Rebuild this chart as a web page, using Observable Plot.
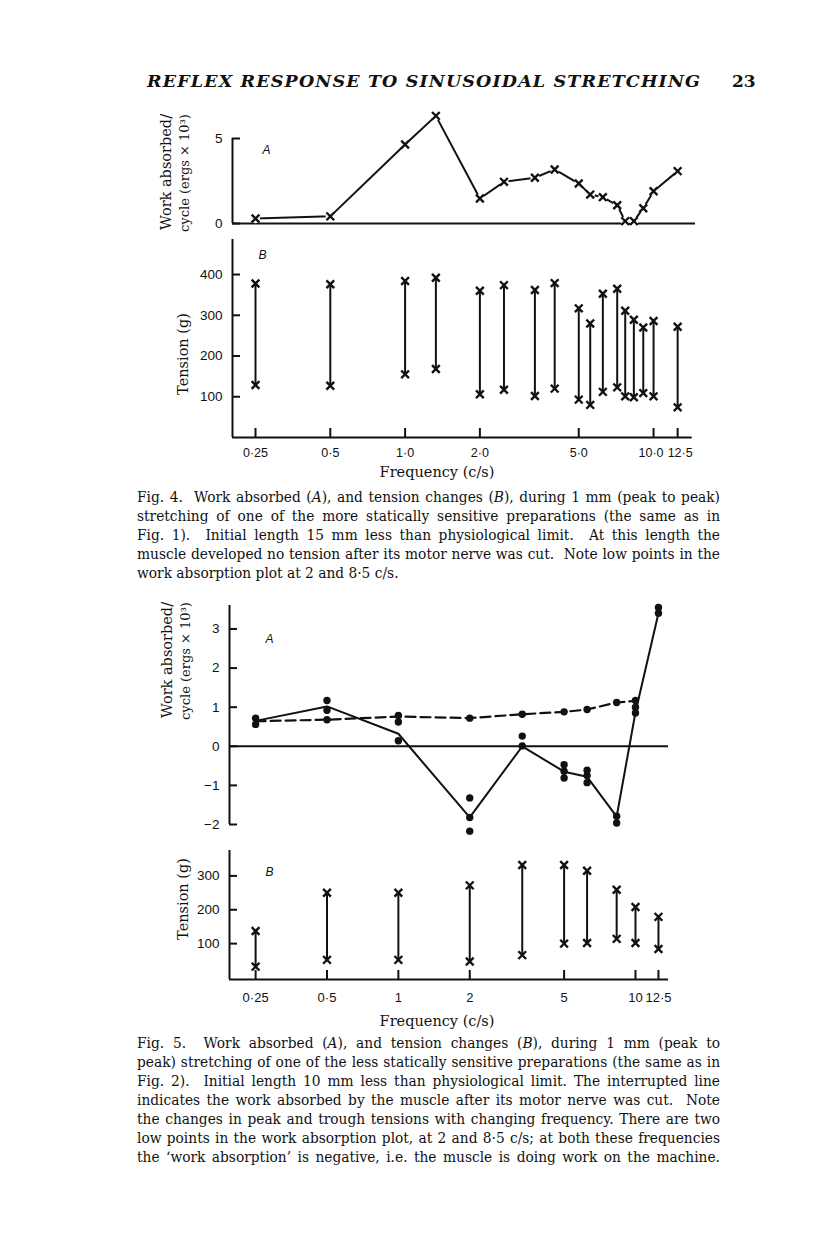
<!DOCTYPE html>
<html>
<head>
<meta charset="utf-8">
<script src="https://cdn.jsdelivr.net/npm/d3@7"></script>
<script src="https://cdn.jsdelivr.net/npm/@observablehq/plot@0.6"></script>
<style>
  html, body { margin: 0; padding: 0; background: #fff; }
  #page { position: relative; width: 816px; height: 1249px; overflow: hidden; background: #fff; color: #111; font-family: "DejaVu Serif", serif; }
  .plot { position: absolute; left: 0; }
  .cap { position: absolute; left: 137px; font-size: 14px; line-height: 19px; transform-origin: 0 0; }
  .cap div { text-align: justify; text-align-last: justify; }
  .cap div.last { text-align-last: left; }
  .cap span.m { display: inline-block; white-space: nowrap; }
  .rot { position: absolute; transform: translate(-50%, -50%) rotate(-90deg); white-space: nowrap; font-family: "DejaVu Serif", serif; }
  .xlab { position: absolute; transform: translate(-50%, -50%); white-space: nowrap; font-family: "DejaVu Serif", serif; font-size: 14.5px; }
</style>
</head>
<body>
<div id="page">
  <svg style="position:absolute;left:0;top:0" width="816" height="110">
    <text x="147" y="87" textLength="553" lengthAdjust="spacing" font-family="DejaVu Serif" font-style="italic" font-weight="bold" font-size="17.5" fill="#111">REFLEX RESPONSE TO SINUSOIDAL STRETCHING</text>
    <text x="732" y="87" font-family="DejaVu Serif" font-weight="bold" font-size="17" fill="#111">23</text>
  </svg>
  <div class="rot" style="left:166px;top:172px;font-size:14.5px">Work absorbed/</div>
  <div class="rot" style="left:184px;top:173px;font-size:13px">cycle (ergs × 10³)</div>
  <div class="rot" style="left:183px;top:354px;font-size:14.5px">Tension (g)</div>
  <div class="xlab" style="left:437px;top:472px">Frequency (c/s)</div>
  <div class="rot" style="left:167px;top:660px;font-size:14.5px">Work absorbed/</div>
  <div class="rot" style="left:185px;top:661px;font-size:13px">cycle (ergs × 10³)</div>
  <div class="rot" style="left:183px;top:899px;font-size:14.5px">Tension (g)</div>
  <div class="xlab" style="left:437px;top:1021px">Frequency (c/s)</div>
</div>
<script>
// ---------- Fig. 4 data ----------
const fig4Freq = [0.25, 0.5, 1, 1.33, 2, 2.5, 3.33, 4, 5, 5.56, 6.25, 7.14, 7.69, 8.33, 9.09, 10, 12.5];
const fig4Work = [0.29, 0.42, 4.65, 6.33, 1.47, 2.45, 2.69, 3.18, 2.35, 1.70, 1.55, 1.07, 0.14, 0.14, 0.9, 1.9, 3.08];
const fig4TensionPeak = [378, 376, 384, 392, 360, 374, 362, 379, 317, 280, 353, 365, 311, 289, 270, 286, 272];
const fig4TensionTrough = [129, 127, 155, 168, 106, 117, 102, 120, 93, 80, 112, 123, 101, 99, 109, 101, 74];
const fig4TickValues = [0.25, 0.5, 1, 2, 5, 10, 12.5];
const fig4TickLabels = ["0·25", "0·5", "1·0", "2·0", "5·0", "10·0", "12·5"];
const fig4WorkTicks = [0, 5];
const fig4WorkTickLabels = ["0", "5"];
const fig4TensionTicks = [100, 200, 300, 400];

// ---------- Fig. 5 data ----------
const fig5Freq = [0.25, 0.5, 1, 2, 3.33, 5, 6.25, 8.33, 10, 12.5];
const fig5WorkIntact = [0.65, 1.02, 0.32, -1.82, 0.0, -0.65, -0.78, -1.8, 0.87, 3.4];
const fig5CutFreq = [0.25, 0.5, 1, 2, 3.33, 5, 6.25, 8.33, 10];
const fig5WorkCut = [0.64, 0.68, 0.76, 0.72, 0.82, 0.88, 0.94, 1.12, 1.16];
const fig5PointFreq = [0.25, 0.25, 0.5, 0.5, 0.5, 1, 1, 1, 2, 2, 2, 2, 3.33, 3.33, 3.33, 5, 5, 5, 5, 6.25, 6.25, 6.25, 6.25, 8.33, 8.33, 8.33, 10, 10, 10, 12.5, 12.5];
const fig5PointWork = [0.72, 0.56, 1.17, 0.92, 0.68, 0.79, 0.62, 0.14, 0.72, -1.32, -1.82, -2.17, 0.82, 0.26, 0.01, 0.88, -0.47, -0.64, -0.81, 0.94, -0.61, -0.75, -0.93, 1.12, -1.79, -1.96, 1.17, 1.0, 0.85, 3.55, 3.4];
const fig5TensionPeak = [137, 250, 250, 272, 332, 332, 315, 259, 208, 179];
const fig5TensionTrough = [32, 52, 52, 47, 66, 100, 102, 114, 102, 84];
const fig5TickValues = [0.25, 0.5, 1, 2, 5, 10, 12.5];
const fig5TickLabels = ["0·25", "0·5", "1", "2", "5", "10", "12·5"];
const fig5WorkTicks = [-2, -1, 0, 1, 2, 3];
const fig5WorkTickLabels = ["−2", "−1", "0", "1", "2", "3"];
const fig5TensionTicks = [100, 200, 300];

// ---------- captions ----------
const cap4Lines = [
  "Fig. 4.&nbsp; Work absorbed (<i>A</i>), and tension changes (<i>B</i>), during 1 mm (peak to peak)",
  "stretching of one of the more statically sensitive preparations (the same as in",
  "Fig. 1).&nbsp; Initial length 15 mm less than physiological limit.&nbsp; At this length the",
  "muscle developed no tension after its motor nerve was cut.&nbsp; Note low points in the",
  "work absorption plot at 2 and 8·5 c/s."
];
const cap5Lines = [
  "Fig. 5.&nbsp; Work absorbed (<i>A</i>), and tension changes (<i>B</i>), during 1 mm (peak to",
  "peak) stretching of one of the less statically sensitive preparations (the same as in",
  "Fig. 2).&nbsp; Initial length 10 mm less than physiological limit. The interrupted line",
  "indicates the work absorbed by the muscle after its motor nerve was cut.&nbsp; Note",
  "the changes in peak and trough tensions with changing frequency. There are two",
  "low points in the work absorption plot, at 2 and 8·5 c/s; at both these frequencies",
  "the ‘work absorption’ is negative, i.e. the muscle is doing work on the machine."
];

const page = document.getElementById("page");
const INK = "#111";
const baseStyle = {fontFamily: "'Liberation Sans', Arial, sans-serif", fontSize: "13px", color: INK, background: "transparent", overflow: "visible"};
const fmt = (values, labels) => d => labels[values.indexOf(d)];

function place(svg, top) {
  svg.classList.add("plot");
  svg.style.top = top + "px";
  page.appendChild(svg);
}

// ---------- Fig 4 A ----------
const f4 = fig4Freq.map((f, i) => ({f, w: fig4Work[i], hi: fig4TensionPeak[i], lo: fig4TensionTrough[i]}));
const x4 = {type: "log", domain: [0.202, 14.75]};
const fig4A = Plot.plot({
  width: 816, height: 140,
  marginLeft: 232, marginRight: 121, marginTop: 38, marginBottom: 17,
  x: {...x4, axis: null},
  y: {domain: [0, 5]},
  style: baseStyle,
  marks: [
    Plot.ruleX([x4.domain[0]], {y1: 0, y2: 5, stroke: INK, strokeWidth: 2}),
    Plot.ruleY([0], {x1: x4.domain[0], x2: x4.domain[1], stroke: INK, strokeWidth: 2}),
    Plot.axisY({ticks: fig4WorkTicks, tickFormat: fmt(fig4WorkTicks, fig4WorkTickLabels), tickSize: -8, tickPadding: 18, strokeWidth: 2, label: null, fontSize: 13.5}),
    Plot.line(f4, {x: "f", y: "w", stroke: INK, strokeWidth: 2}),
    Plot.dot(f4, {x: "f", y: "w", r: 4.6, fill: "white"}),
    Plot.dot(f4, {x: "f", y: "w", symbol: "times", r: 3.6, stroke: INK, strokeWidth: 2.4}),
    Plot.text(["A"], {text: d => d, frameAnchor: "top-left", dx: 30, dy: 7, fontStyle: "italic", fontSize: 12, textAnchor: "start"})
  ]
});
place(fig4A, 100);

// ---------- Fig 4 B ----------
const fig4Close = [10, 12.5];
const fig4B = Plot.plot({
  width: 816, height: 230,
  marginLeft: 232, marginRight: 121, marginTop: 4, marginBottom: 28,
  x: x4,
  y: {domain: [0, 486]},
  style: baseStyle,
  marks: [
    Plot.ruleX([x4.domain[0]], {y1: 0, y2: 486, stroke: INK, strokeWidth: 2}),
    Plot.ruleY([0], {x1: x4.domain[0], x2: 14.3, stroke: INK, strokeWidth: 2}),
    Plot.axisY({ticks: fig4TensionTicks, tickSize: -8, tickPadding: 18, strokeWidth: 2, label: null, fontSize: 13.5}),
    Plot.axisX({ticks: fig4TickValues, tickFormat: d => fig4Close.includes(d) ? "" : fmt(fig4TickValues, fig4TickLabels)(d), tickSize: -9, tickPadding: 20, strokeWidth: 2, label: null, fontSize: 12.5}),
    Plot.axisX({ticks: [10], tickFormat: fmt(fig4TickValues, fig4TickLabels), tickSize: 0, tickPadding: 11, stroke: "none", label: null, fontSize: 12.5, textAnchor: "end", dx: 10}),
    Plot.axisX({ticks: [12.5], tickFormat: fmt(fig4TickValues, fig4TickLabels), tickSize: 0, tickPadding: 11, stroke: "none", label: null, fontSize: 12.5, textAnchor: "start", dx: -10}),
    Plot.ruleX(f4, {x: "f", y1: "lo", y2: "hi", stroke: INK, strokeWidth: 2}),
    Plot.dot(f4, {x: "f", y: "hi", symbol: "times", r: 3.6, stroke: INK, strokeWidth: 2.4}),
    Plot.dot(f4, {x: "f", y: "lo", symbol: "times", r: 3.6, stroke: INK, strokeWidth: 2.4}),
    Plot.text(["B"], {text: d => d, frameAnchor: "top-left", dx: 26, dy: 11, fontStyle: "italic", fontSize: 12, textAnchor: "start"})
  ]
});
place(fig4B, 235);

// ---------- Fig 5 A ----------
const x5 = {type: "log", domain: [0.194, 13.78]};
const intact = fig5Freq.map((f, i) => ({f, w: fig5WorkIntact[i]}));
const cut = fig5CutFreq.map((f, i) => ({f, w: fig5WorkCut[i]}));
const pts = fig5PointFreq.map((f, i) => ({f, w: fig5PointWork[i]}));
const fig5A = Plot.plot({
  width: 816, height: 240,
  marginLeft: 229, marginRight: 148, marginTop: 10, marginBottom: 11,
  x: {...x5, axis: null},
  y: {domain: [-2, 3.6]},
  style: baseStyle,
  marks: [
    Plot.ruleX([x5.domain[0]], {y1: -2, y2: 3.6, stroke: INK, strokeWidth: 2}),
    Plot.ruleY([0], {x1: x5.domain[0], x2: x5.domain[1], stroke: INK, strokeWidth: 2}),
    Plot.axisY({ticks: fig5WorkTicks, tickFormat: fmt(fig5WorkTicks, fig5WorkTickLabels), tickSize: -8, tickPadding: 18, strokeWidth: 2, label: null, fontSize: 13.5}),
    Plot.line(cut, {x: "f", y: "w", stroke: INK, strokeWidth: 2.2, strokeDasharray: "10,5"}),
    Plot.line(intact, {x: "f", y: "w", stroke: INK, strokeWidth: 2}),
    Plot.dot(pts, {x: "f", y: "w", r: 3.7, fill: INK}),
    Plot.text(["A"], {text: d => d, frameAnchor: "top-left", dx: 36, dy: 29, fontStyle: "italic", fontSize: 12, textAnchor: "start"})
  ]
});
place(fig5A, 595);

// ---------- Fig 5 B ----------
const f5 = fig5Freq.map((f, i) => ({f, hi: fig5TensionPeak[i], lo: fig5TensionTrough[i]}));
const fig5B = Plot.plot({
  width: 816, height: 175,
  marginLeft: 229, marginRight: 148, marginTop: 10, marginBottom: 36,
  x: x5,
  y: {domain: [-6, 375]},
  style: baseStyle,
  marks: [
    Plot.ruleX([x5.domain[0]], {y1: -6, y2: 375, stroke: INK, strokeWidth: 2}),
    Plot.ruleY([-6], {x1: x5.domain[0], x2: x5.domain[1], stroke: INK, strokeWidth: 2}),
    Plot.axisY({ticks: fig5TensionTicks, tickSize: -8, tickPadding: 18, strokeWidth: 2, label: null, fontSize: 13.5}),
    Plot.axisX({ticks: fig5TickValues, tickFormat: fmt(fig5TickValues, fig5TickLabels), tickSize: -9, tickPadding: 22, strokeWidth: 2, label: null, fontSize: 13}),
    Plot.ruleX(f5, {x: "f", y1: "lo", y2: "hi", stroke: INK, strokeWidth: 2}),
    Plot.dot(f5, {x: "f", y: "hi", symbol: "times", r: 3.6, stroke: INK, strokeWidth: 2.4}),
    Plot.dot(f5, {x: "f", y: "lo", symbol: "times", r: 3.6, stroke: INK, strokeWidth: 2.4}),
    Plot.text(["B"], {text: d => d, frameAnchor: "top-left", dx: 36, dy: 17, fontStyle: "italic", fontSize: 12, textAnchor: "start"})
  ]
});
place(fig5B, 840);

// ---------- captions (justified to the printed measure) ----------
const MEASURE = 583;
function makeCaption(lines, top, lastLeft) {
  const box = document.createElement("div");
  box.className = "cap";
  box.style.top = top + "px";
  lines.forEach((html, i) => {
    const d = document.createElement("div");
    if (lastLeft && i === lines.length - 1) d.className = "last";
    d.innerHTML = '<span class="m">' + html + '</span>';
    box.appendChild(d);
  });
  page.appendChild(box);
  return box;
}
const c4 = makeCaption(cap4Lines, 488, true);
const c5 = makeCaption(cap5Lines, 1034, false);
let maxW = 0;
document.querySelectorAll(".cap span.m").forEach(s => { maxW = Math.max(maxW, s.getBoundingClientRect().width); });
const s = Math.min(1, MEASURE / (maxW + 6));
[c4, c5].forEach(box => {
  box.style.width = (MEASURE / s) + "px";
  box.style.transform = "scaleX(" + s + ")";
  box.querySelectorAll("div").forEach(d => { d.innerHTML = d.querySelector("span.m").innerHTML; });
});
</script>
</body>
</html>
